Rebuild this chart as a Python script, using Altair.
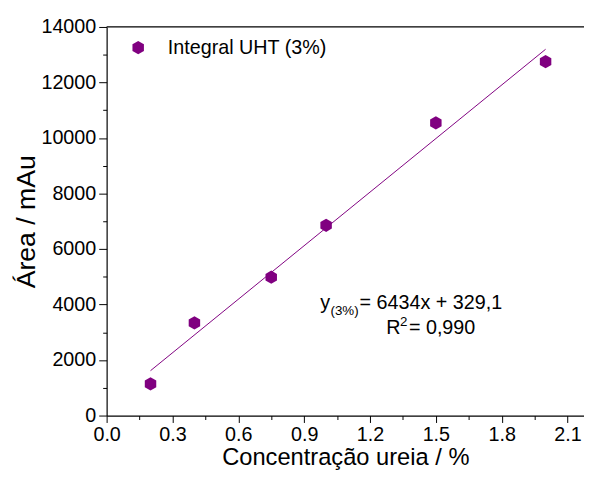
import altair as alt
import pandas as pd

# Data
conc = [0.2, 0.4, 0.75, 1.0, 1.5, 2.0]
area = [1140, 3340, 4985, 6855, 10545, 12750]
series_name = "Integral UHT (3%)"

x_ticks = [0.0, 0.3, 0.6, 0.9, 1.2, 1.5, 1.8, 2.1]
x_minor = [0.15, 0.45, 0.75, 1.05, 1.35, 1.65, 1.95]
y_ticks = [0, 2000, 4000, 6000, 8000, 10000, 12000, 14000]
y_minor = [1000, 3000, 5000, 7000, 9000, 11000, 13000]

eq_main = "= 6434x + 329,1"
eq_sub = "(3%)"
r2_main = "= 0,990"

PURPLE = "#800080"
FONT = "Liberation Sans"
HEX = "M0,-1L0.866,-0.5L0.866,0.5L0,1L-0.866,0.5L-0.866,-0.5Z"

W, H = 484, 394
XMAX = 2.175

df = pd.DataFrame({"x": conc, "y": area, "s": [series_name] * len(conc)})

xscale = alt.Scale(domain=[0, XMAX], nice=False, zero=False)
yscale = alt.Scale(domain=[0, 14000], nice=False)

base = alt.Chart(df)

points = base.mark_point(shape=HEX, filled=True, size=180, opacity=1, strokeWidth=0).encode(
    x=alt.X("x:Q", scale=xscale, axis=alt.Axis(
        values=x_ticks, format=".1f", title="Concentração ureia / %", orient="bottom",
        grid=False, tickSize=7, tickColor="#000", domainColor="#000", domainWidth=1.2,
        labelFontSize=20, labelColor="#000", labelFont=FONT, labelPadding=2,
        titleFontSize=24, titleFont=FONT, titleFontWeight="normal", titleColor="#000",
        titlePadding=2, labelFlush=False)),
    y=alt.Y("y:Q", scale=yscale, axis=alt.Axis(
        values=y_ticks, format="d", title="Área / mAu", orient="left",
        grid=False, tickSize=8, tickColor="#000", domainColor="#000", domainWidth=1.2,
        labelFontSize=20, labelColor="#000", labelFont=FONT, labelPadding=3,
        titleFontSize=27, titleFont=FONT, titleFontWeight="normal", titleColor="#000",
        titlePadding=1, labelFlush=False)),
    color=alt.Color("s:N", scale=alt.Scale(range=[PURPLE]), legend=alt.Legend(
        title=None, orient="none", legendX=22, legendY=11, symbolType=HEX,
        symbolSize=180, symbolStrokeWidth=0, labelFontSize=20, labelFont=FONT,
        labelColor="#000", labelOffset=20, labelLimit=400)),
)

fit = base.transform_regression("x", "y").mark_line(color=PURPLE, strokeWidth=1).encode(
    x=alt.X("x:Q", scale=xscale, axis=None),
    y=alt.Y("y:Q", scale=yscale, axis=None),
)

minor = base.mark_point(opacity=0).encode(
    x=alt.X("x:Q", scale=xscale, axis=alt.Axis(
        values=x_minor, labels=False, title=None, orient="bottom", grid=False,
        tickSize=4, tickColor="#000", domain=False)),
    y=alt.Y("y:Q", scale=yscale, axis=alt.Axis(
        values=y_minor, labels=False, title=None, orient="left", grid=False,
        tickSize=4, tickColor="#000", domain=False)),
)

top_line = alt.Chart(pd.DataFrame({"a": [0]})).mark_rule(color="#000", strokeWidth=1.2).encode(
    x=alt.value(0), x2=alt.value(W), y=alt.value(0))

def txt(s, x, y, size):
    return alt.Chart(pd.DataFrame({"t": [s]})).mark_text(
        align="left", baseline="alphabetic", fontSize=size, font=FONT, color="#000"
    ).encode(text="t:N", x=alt.value(x), y=alt.value(y))

texts = [
    txt("y", 216.7, 286, 20),
    txt(eq_sub, 227, 292, 13.5),
    txt(eq_main, 256.5, 286, 20),
    txt("R", 283.5, 311, 20),
    txt("2", 297.5, 303, 13.5),
    txt(r2_main, 306.5, 311, 20),
]

chart = alt.layer(minor, fit, points, top_line, *texts).resolve_axis(
    x="independent", y="independent"
).properties(
    width=W, height=H,
    padding={"left": 100, "top": 16, "right": 0, "bottom": 55},
    autosize=alt.AutoSizeParams(type="none"),
).configure_view(stroke=None)

chart.save("out.html", embed_options={"renderer": "svg", "actions": False})
